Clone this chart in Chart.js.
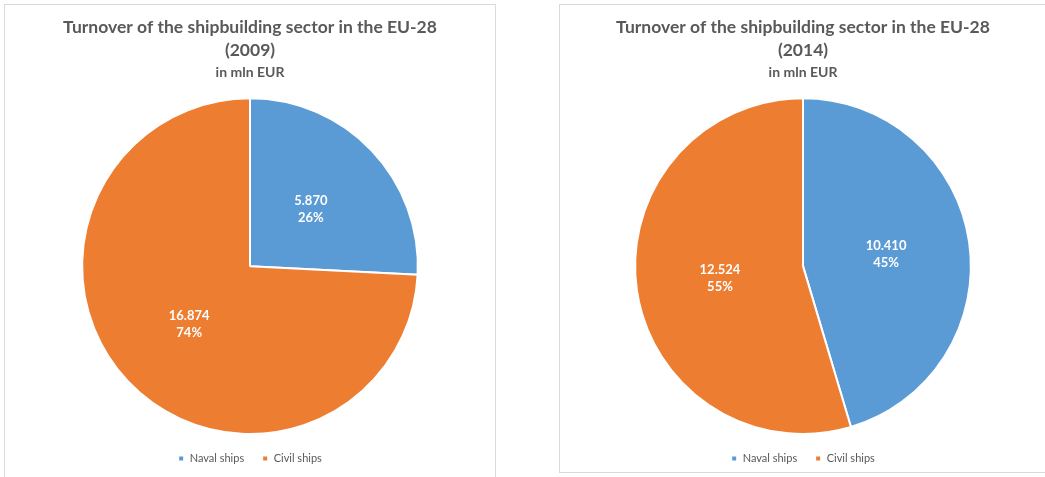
<!DOCTYPE html>
<html>
<head>
<meta charset="utf-8">
<script src="https://cdn.jsdelivr.net/npm/chart.js@4/dist/chart.umd.min.js"></script>
<style>
  html, body { margin: 0; padding: 0; background: #fff; overflow: hidden; }
  body { width: 1045px; height: 477px; position: relative; }
  .panel { position: absolute; border: 1px solid #d9d9d9; background: #fff; }
  #panel2009 { left: 4px; top: 4px; width: 490px; height: 480px; }
  #panel2014 { left: 559px; top: 4px; width: 492px; height: 467px; }
  canvas { display: block; }
</style>
</head>
<body>
<div class="panel" id="panel2009"><canvas id="chart2009" width="490" height="469"></canvas></div>
<div class="panel" id="panel2014"><canvas id="chart2014" width="486" height="469"></canvas></div>
<script>
const categories = ['Naval ships', 'Civil ships'];
const turnover2009 = [5870, 16874];
const turnover2014 = [10410, 12524];
const sliceColors = ['#5B9BD5', '#ED7D31'];

const FONT = 'Lato, "Open Sans", sans-serif';
const TEXT_GREY = '#595959';

// 16874 -> "16.874"
function formatThousands(v) {
    return String(v).replace(/\B(?=(\d{3})+(?!\d))/g, '.');
}

// value + share, printed in the middle of each slice
const sliceLabels = {
    id: 'sliceLabels',
    afterDatasetsDraw(chart) {
        const ctx = chart.ctx;
        const data = chart.data.datasets[0].data;
        const total = data.reduce((a, b) => a + b, 0);
        const meta = chart.getDatasetMeta(0);
        ctx.save();
        ctx.fillStyle = '#ffffff';
        ctx.font = 'bold 13px ' + FONT;
        ctx.textAlign = 'center';
        ctx.textBaseline = 'middle';
        meta.data.forEach((arc, i) => {
            const pos = arc.tooltipPosition();
            const pct = Math.round(data[i] / total * 100) + '%';
            ctx.fillText(formatThousands(data[i]), pos.x, pos.y - 8);
            ctx.fillText(pct, pos.x, pos.y + 9);
        });
        ctx.restore();
    }
};

function createPie(canvasId, year, values) {
    const ctx = document.getElementById(canvasId).getContext('2d');
    return new Chart(ctx, {
        type: 'pie',
        data: {
            labels: categories,
            datasets: [{
                data: values,
                backgroundColor: sliceColors,
                borderColor: '#ffffff',
                borderWidth: 2
            }]
        },
        options: {
            responsive: false,
            animation: false,
            plugins: {
                title: {
                    display: true,
                    text: ['Turnover of the shipbuilding sector in the EU-28', '(' + year + ')'],
                    color: TEXT_GREY,
                    font: { family: FONT, size: 17.5, weight: 'bold', lineHeight: 1.3 },
                    padding: { top: 11, bottom: 0 }
                },
                subtitle: {
                    display: true,
                    text: 'in mln EUR',
                    color: TEXT_GREY,
                    font: { family: FONT, size: 14, weight: 'bold', lineHeight: 1.2 },
                    padding: { top: 3, bottom: 16 }
                },
                legend: {
                    position: 'bottom',
                    labels: {
                        color: TEXT_GREY,
                        font: { family: FONT, size: 11 },
                        usePointStyle: true,
                        pointStyle: 'rect',
                        boxWidth: 6,
                        boxHeight: 6,
                        padding: 18
                    }
                },
                tooltip: { enabled: false }
            }
        },
        plugins: [sliceLabels]
    });
}

createPie('chart2009', 2009, turnover2009);
createPie('chart2014', 2014, turnover2014);
</script>
</body>
</html>
